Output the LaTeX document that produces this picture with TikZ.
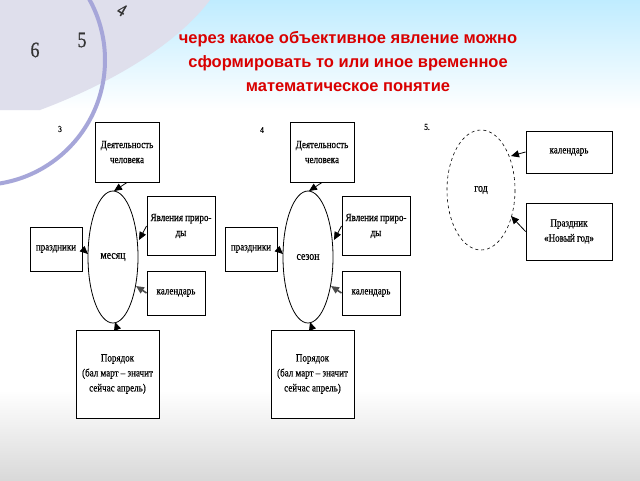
\documentclass[tikz,border=0pt]{standalone}
\usepackage{fontspec}
\setmainfont{Liberation Serif}[FakeStretch=0.82,FakeBold=0.6]
\newfontfamily\titlefont{Liberation Sans}
\usetikzlibrary{arrows.meta}
\begin{document}
\begin{tikzpicture}[x=1pt,y=-1pt,
  bx/.style={draw,line width=0.9pt,fill=white,inner sep=0pt,font=\fontsize{11}{15}\selectfont,align=center},
  ov/.style={draw,line width=0.8pt},
  ar/.style={-{Triangle[length=8pt,width=7pt]},line width=0.8pt},
  num/.style={font=\fontsize{9}{10}\selectfont}]
\useasboundingbox (0,0) rectangle (640,480);
% background
\fill[white] (0,0) rectangle (640,480);
\shade[top color=blue!30!cyan!25,bottom color=white] (0,0) rectangle (640,110);
\shade[top color=white,bottom color=gray!30] (0,390) rectangle (640,480);
\fill[blue!25!gray!20] (0,0) -- (210,0) .. controls (180,40) and (120,80) .. (40,110) -- (0,110) -- cycle;
\draw[line width=4pt,blue!40!gray!50] (-20,60) circle (125);
\node[font=\fontsize{22}{22}\selectfont,gray!40!black] (n6) at (35,50) {6};
\node[font=\fontsize{22}{22}\selectfont,gray!40!black] (n5) at (82,40) {5};
\node[font=\fontsize{18}{18}\selectfont,gray!40!black,rotate=-30] (n4) at (122,10) {4};
% title
\node[font=\titlefont\bfseries\fontsize{16.5}{24}\selectfont,text=red!85!black,align=center] (title) at (348,62)
 {через какое объективное явление можно\\сформировать то или иное временное\\математическое понятие};
% diagram 3
\node[num] (l3) at (60,129) {3};
\draw[ov] (113,257) ellipse [x radius=25,y radius=66];
\node (m) at (113,257) {\fontsize{12}{12}\selectfont месяц};
\node[bx,minimum width=64pt,minimum height=60pt] (a1) at (127,152) {Деятельность\\человека};
\node[bx,minimum width=68pt,minimum height=59pt] (b1) at (181,226) {Явления приро-\\ды};
\node[bx,minimum width=52pt,minimum height=44pt] (c1) at (56,249) {праздники};
\node[bx,minimum width=58pt,minimum height=44pt] (d1) at (176,293) {календарь};
\node[bx,minimum width=83pt,minimum height=88pt] (e1) at (117.5,374) {Порядок\\(бал март – значит\\сейчас апрель)};
\draw[ar] (a1.south) -- (114,191);
\draw[ar] (b1.west) -- (139,240);
\draw[ar] (c1.east) -- (88,254);
\draw[ar,gray!60!black,line width=1.6pt] (d1.west) -- (136,286);
\draw[ar] (e1.north) -- (115,322);
% diagram 4
\node[num] (l4) at (262,130) {4};
\draw[ov] (308,257) ellipse [x radius=25,y radius=66];
\node (s) at (308,257) {\fontsize{12}{12}\selectfont сезон};
\node[bx,minimum width=64pt,minimum height=60pt] (a2) at (322,152) {Деятельность\\человека};
\node[bx,minimum width=68pt,minimum height=59pt] (b2) at (376,226) {Явления приро-\\ды};
\node[bx,minimum width=52pt,minimum height=44pt] (c2) at (251,249) {праздники};
\node[bx,minimum width=58pt,minimum height=44pt] (d2) at (371,293) {календарь};
\node[bx,minimum width=83pt,minimum height=88pt] (e2) at (312.5,374) {Порядок\\(бал март – значит\\сейчас апрель)};
\draw[ar] (a2.south) -- (309,191);
\draw[ar] (b2.west) -- (334,240);
\draw[ar] (c2.east) -- (283,254);
\draw[ar,gray!60!black,line width=1.6pt] (d2.west) -- (331,286);
\draw[ar] (e2.north) -- (310,322);
% diagram 5
\node[num] (l5) at (427,127) {5.};
\draw[ov,dashed,line width=0.6pt] (481,190) ellipse [x radius=34,y radius=60];
\node (g) at (481,190) {\fontsize{12}{12}\selectfont год};
\node[bx,minimum width=86pt,minimum height=42pt] (a3) at (569,152) {календарь};
\node[bx,minimum width=86pt,minimum height=57pt] (b3) at (569,231.5) {Праздник\\«Новый год»};
\draw[ar] (a3.west) -- (511,156);
\draw[ar] (b3.west) -- (511,216);
\end{tikzpicture}
\end{document}
